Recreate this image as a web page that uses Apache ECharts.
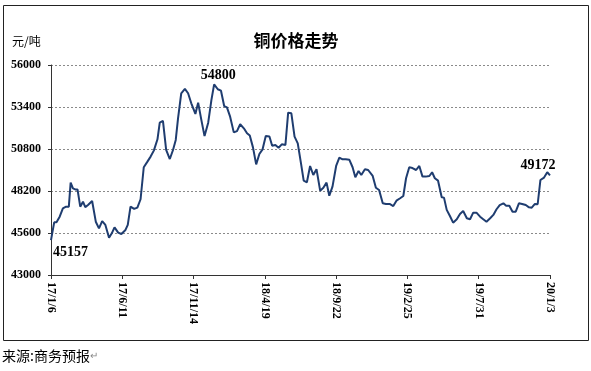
<!DOCTYPE html>
<html>
<head>
<meta charset="utf-8">
<script src="https://cdn.jsdelivr.net/npm/echarts@6/dist/echarts.min.js"></script>
<style>
html,body{margin:0;padding:0;background:#fff;}
#c{width:591px;height:371px;}
</style>
</head>
<body>
<div id="c"></div>
<script>
// Day offsets from 2017-01-06 and copper prices (元/吨)
var dayOffsets = [
  0,7,12,19,26,33,39,43,48,53,58,64,70,75,81,90,98,105,112,119,127,133,139,147,154,163,168,174,182,189,196,203,211,218,225,233,238,245,252,260,267,273,
  278,285,293,300,307,316,322,329,336,344,351,357,365,372,379,385,392,400,407,414,422,429,435,442,449,456,463,470,478,484,491,498,505,513,519,526,533,540,
  547,553,560,567,574,581,589,596,603,609,616,624,631,638,645,653,660,666,673,679,687,694,704,711,718,726,733,741,749,756,764,771,777,784,791,799,806,
  813,820,828,834,840,847,855,860,866,873,880,888,895,902,910,917,924,931,939,946,953,961,968,975,982,990,996,1003,1010,1017,1024,1031,1039,1046,1052,1059,1065,1071,1079,1086,1092
];
var prices = [
  45157,46260,46260,46610,47130,47230,47230,48720,48360,48300,48300,47230,47540,47200,47330,47580,46300,45890,46340,46100,45310,45580,45950,45620,45540,45790,46100,47230,47090,47170,47690,49670,50020,50330,50700,51400,52430,52540,50740,50180,50740,51360,
  52700,54250,54520,54250,53630,52970,53670,52600,51600,52430,53830,54800,54500,54410,53460,53380,52800,51830,51910,52330,52080,51770,51630,50900,49850,50490,50780,51600,51570,51000,51050,50880,51090,51050,53050,53010,51570,51150,
  49920,48840,48740,49750,49190,49550,48220,48400,48720,47910,48470,49750,50260,50160,50160,50130,49670,49050,49440,49190,49550,49500,49130,48400,48260,47440,47400,47400,47270,47600,47750,47890,48990,49670,49620,49500,49750,
  49090,49090,49130,49360,48990,48840,47810,47790,47030,46650,46240,46450,46780,46960,46510,46450,46860,46860,46610,46450,46300,46510,46720,47070,47330,47440,47290,47290,46920,46920,47440,47400,47330,47190,47170,47400,47380,48880,49030,49360,49172
];
var tickLabels = ['17/1/6','17/6/11','17/11/14','18/4/19','18/9/22','19/2/25','19/7/31','20/1/3'];
var annotatedIdx = [0, 53, prices.length - 1];

var serif = '"Liberation Serif","Times New Roman",serif';
var cjk = '"Noto Sans CJK SC","Noto Sans",sans-serif';

var lineData = prices.map(function (p, i) { return [dayOffsets[i], p]; });
var labelCfg = [
  {position: 'right', distance: 2, offset: [0, 12]},
  {position: 'top', distance: 2, offset: [4, 0]},
  {position: 'top', distance: 3, offset: [-12, 0]}
];
var annData = annotatedIdx.map(function (idx, k) {
  var c = labelCfg[k];
  return {
    value: [dayOffsets[idx], prices[idx]],
    label: {show: true, formatter: String(prices[idx]), position: c.position, distance: c.distance, offset: c.offset,
      fontFamily: serif, fontWeight: 'bold', fontSize: 14, color: '#000', opacity: 1}
  };
});

var chart = echarts.init(document.getElementById('c'), null, {renderer: 'canvas'});
chart.setOption({
  animation: false,
  backgroundColor: '#fff',
  grid: {left: 51, right: 41, top: 65, bottom: 96, containLabel: false},
  graphic: [
    {type: 'rect', shape: {x: 3.5, y: 5.5, width: 585, height: 335}, style: {fill: 'none', stroke: '#222', lineWidth: 1}, silent: true, z: -1},
    {type: 'text', left: 12, top: 35, style: {text: '元/吨', font: '12px ' + cjk, fill: '#000'}},
    {type: 'text', x: 296, y: 41, style: {text: '铜价格走势', font: 'bold 17px ' + cjk, fill: '#000', textAlign: 'center', textVerticalAlign: 'middle'}},
    {type: 'text', left: 2, top: 349, style: {
      text: '{a|来源:商务预报}{b|↵}',
      rich: {a: {fontFamily: cjk, fontSize: 14, fill: '#000', color: '#000'}, b: {fontSize: 10, color: '#888', fill: '#888'}}
    }}
  ],
  xAxis: {
    type: 'value', min: 0, max: 1092, interval: 156,
    axisLine: {show: true, onZero: false, lineStyle: {color: '#333', width: 1}},
    axisTick: {show: true, inside: false, length: 4, lineStyle: {color: '#333'}},
    splitLine: {show: false},
    axisLabel: {
      rotate: -90, margin: 7, fontFamily: serif, fontWeight: 'bold', fontSize: 12, color: '#000',
      formatter: function (v) { return tickLabels[Math.round(v / 156)] || ''; }
    }
  },
  yAxis: {
    type: 'value', min: 43000, max: 56000, interval: 2600,
    axisLine: {show: true, lineStyle: {color: '#333', width: 1}},
    axisTick: {show: true, inside: false, length: 3, lineStyle: {color: '#333'}},
    splitLine: {show: true, lineStyle: {color: '#8a8a8a', type: [2, 2], width: 1}},
    axisLabel: {margin: 10, fontFamily: serif, fontWeight: 'bold', fontSize: 12, color: '#000',
      formatter: function (v) { return String(v); }}
  },
  series: [{
    type: 'line', data: lineData, symbol: 'none', showSymbol: false, smooth: false,
    lineStyle: {color: '#1F3D70', width: 2}, itemStyle: {color: '#1F3D70'},
    emphasis: {disabled: true}
  }, {
    type: 'scatter', data: annData, symbolSize: 0, itemStyle: {color: '#000', opacity: 1},
    emphasis: {disabled: true}, z: 5
  }]
});
</script>
</body>
</html>
